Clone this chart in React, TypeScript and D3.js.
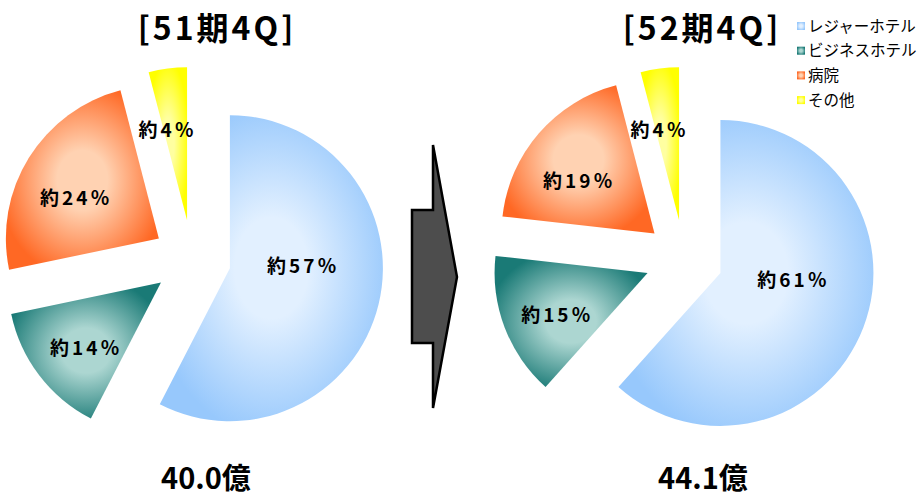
import * as d3 from "d3";

const categories = ["レジャーホテル", "ビジネスホテル", "病院", "その他"];
const periods = ["[51期4Q]", "[52期4Q]"];
const shares51 = [57, 14, 24, 4];
const shares52 = [61, 15, 19, 4];
const totals = ["40.0億", "44.1億"];

const W = 924;
const H = 498;
const R = 153;
const EXPLODE = 39;
const CJK = "'Noto Sans CJK JP', sans-serif";

// edge colour, centre colour (path gradient look)
const colors: [string, string][] = [
  ["#97c8fc", "#e2f0ff"],
  ["#1a7a76", "#acd6d1"],
  ["#ff6824", "#ffd2b2"],
  ["#ffff00", "#ffffa0"],
];

// label placement per slice: fraction of radius, angle nudge (deg)
const labelK = [0.48, 0.65, 0.6, 0.6];
const labelTurn = [-15, -4, -6, -5];

const panels = [
  { shares: shares51, cx: 192, titleX: 217, totalX: 206 },
  { shares: shares52, cx: 684, titleX: 702, totalX: 703 },
];
const CY = 259;

const pie = d3
  .pie<number>()
  .sort(null)
  .value((d) => d)
  .startAngle(0)
  .endAngle(2 * Math.PI);
const arc = d3.arc<d3.PieArcDatum<number>>().innerRadius(0).outerRadius(R);

const Arrow = () => {
  const pts: [number, number][] = [
    [433, 145],
    [433, 210],
    [412, 210],
    [412, 343],
    [433, 343],
    [433, 408],
    [457, 277],
  ];
  return (
    <path
      d={d3.line()(pts) + "Z"}
      fill="#4d4d4d"
      stroke="#000"
      strokeWidth={2.5}
      strokeLinejoin="miter"
    />
  );
};

const App = () => {
  return (
    <svg
      width={W}
      height={H}
      style={{ position: "absolute", left: 0, top: 0, background: "#fff" }}
    >
      <defs>
        {colors.map(([edge, mid], i) => (
          <radialGradient key={i} id={`grad-${i}`} cx="50%" cy="50%" r="55%">
            <stop offset="0%" stopColor={mid} />
            <stop offset="30%" stopColor={mid} />
            <stop offset="100%" stopColor={edge} />
          </radialGradient>
        ))}
      </defs>

      {panels.map((p, pi) => {
        const arcs = pie(p.shares);
        return (
          <g key={pi}>
            <text
              x={p.titleX}
              y={40}
              textAnchor="middle"
              fontFamily={CJK}
              fontWeight="bold"
              fontSize={32}
              letterSpacing={3}
              fill="#000"
            >
              {periods[pi]}
            </text>
            {arcs.map((a, i) => {
              const mid = (a.startAngle + a.endAngle) / 2;
              const ox = p.cx + Math.sin(mid) * EXPLODE;
              const oy = CY - Math.cos(mid) * EXPLODE;
              const la = mid + (labelTurn[i] * Math.PI) / 180;
              const lr = R * labelK[i];
              return (
                <g key={i}>
                  <path
                    d={arc(a) ?? ""}
                    transform={`translate(${ox},${oy})`}
                    fill={`url(#grad-${i})`}
                  />
                  <text
                    x={ox + Math.sin(la) * lr}
                    y={oy - Math.cos(la) * lr}
                    dy="0.36em"
                    textAnchor="middle"
                    fontFamily={CJK}
                    fontWeight="bold"
                    fontSize={19}
                    letterSpacing={3}
                    fill="#000"
                  >
                    {`約${a.data}％`}
                  </text>
                </g>
              );
            })}
            <text
              x={p.totalX}
              y={489}
              textAnchor="middle"
              fontFamily={CJK}
              fontWeight="bold"
              fontSize={29}
              fill="#000"
            >
              {totals[pi]}
            </text>
          </g>
        );
      })}

      <Arrow />

      <g transform="translate(797,26)">
        {categories.map((c, i) => (
          <g key={c} transform={`translate(0,${i * 24.7})`}>
            <rect x={0} y={-4} width={8} height={8} fill={`url(#grad-${i})`} />
            <text
              x={11}
              y={0}
              dy="0.36em"
              fontFamily={CJK}
              fontSize={15.5}
              fill="#000"
            >
              {c}
            </text>
          </g>
        ))}
      </g>
    </svg>
  );
};

export default App;
